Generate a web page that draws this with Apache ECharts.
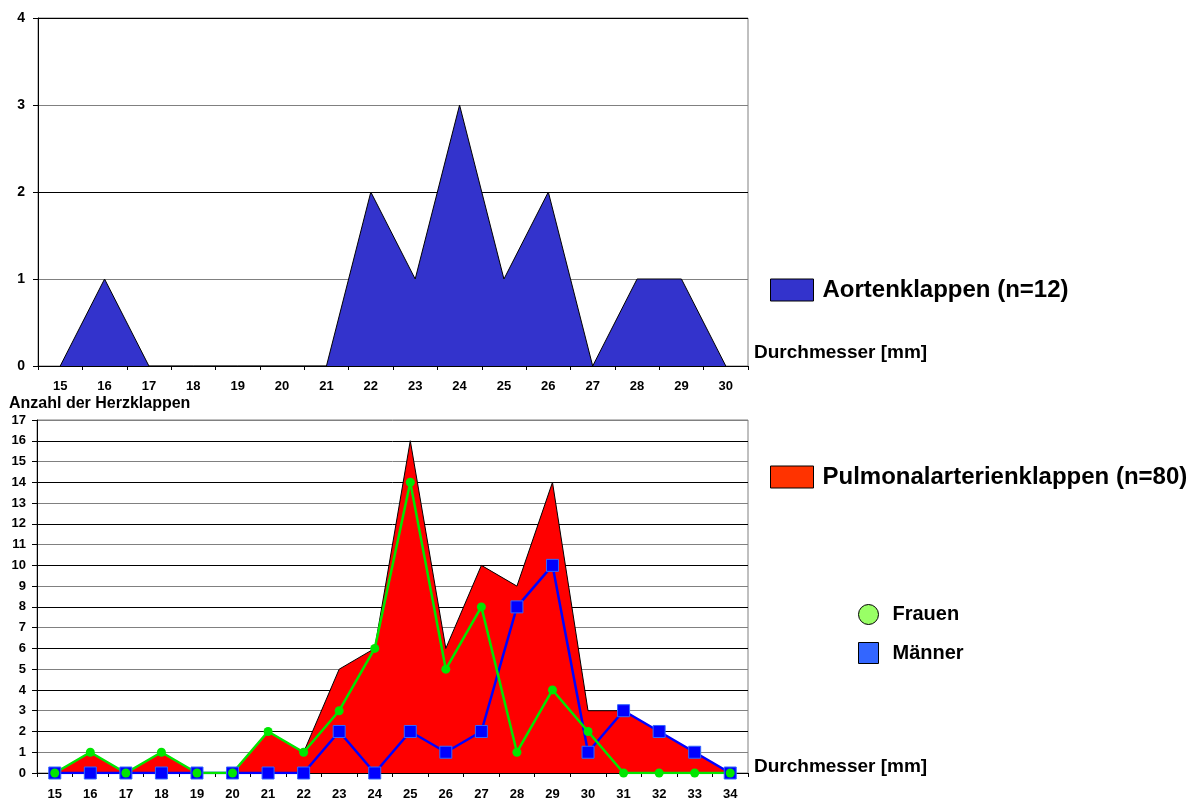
<!DOCTYPE html>
<html>
<head>
<meta charset="utf-8">
<script src="https://cdn.jsdelivr.net/npm/echarts@6/dist/echarts.min.js"></script>
<style>
  html, body { margin: 0; padding: 0; background: #fff; }
  #chart { width: 1196px; height: 801px; }
</style>
</head>
<body>
<div id="chart"></div>
<script>
// Aortenklappen, Durchmesser 15..30 mm
var aortaSizes = ['15', '16', '17', '18', '19', '20', '21', '22', '23', '24', '25', '26', '27', '28', '29', '30'];
var aortaCounts = [0, 1, 0, 0, 0, 0, 0, 2, 1, 3, 1, 2, 0, 1, 1, 0];

// Pulmonalarterienklappen, Durchmesser 15..34 mm
var pulmoSizes = ['15', '16', '17', '18', '19', '20', '21', '22', '23', '24', '25', '26', '27', '28', '29', '30', '31', '32', '33', '34'];
var pulmoCounts = [0, 1, 0, 1, 0, 0, 2, 1, 5, 6, 16, 6, 10, 9, 14, 3, 3, 2, 1, 0];
var frauenCounts = [0, 1, 0, 1, 0, 0, 2, 1, 3, 6, 14, 5, 8, 1, 4, 2, 0, 0, 0, 0];
var maennerCounts = [0, 0, 0, 0, 0, 0, 0, 0, 2, 0, 2, 1, 2, 8, 10, 1, 3, 2, 1, 0];

var FONT = '"Liberation Sans", Arial, sans-serif';

var chart = echarts.init(document.getElementById('chart'));

function xAxisOf(gridIndex, data, nameStyle, labelMargin) {
  return {
    type: 'category',
    gridIndex: gridIndex,
    data: data,
    boundaryGap: true,
    name: 'Durchmesser [mm]',
    nameLocation: 'end',
    nameGap: 6,
    nameTextStyle: nameStyle,
    axisLine: { lineStyle: { color: '#000', width: 1 } },
    axisTick: { show: true, length: 4, lineStyle: { color: '#000' } },
    axisLabel: { interval: 0, color: '#000', fontFamily: FONT, fontWeight: 'bold', fontSize: 13, margin: labelMargin },
    splitLine: { show: false }
  };
}

function yAxisOf(gridIndex, max, fontSize, margin) {
  return {
    type: 'value',
    gridIndex: gridIndex,
    min: 0,
    max: max,
    interval: 1,
    axisLine: { show: true, lineStyle: { color: '#000', width: 1 } },
    axisTick: { show: true, length: 5, lineStyle: { color: '#000' } },
    axisLabel: { color: '#000', fontFamily: FONT, fontWeight: 'bold', fontSize: fontSize, margin: margin },
    splitLine: { show: true, lineStyle: { color: ['#000', '#808080'], width: 1 } }
  };
}

chart.setOption({
  animation: false,
  backgroundColor: '#fff',
  textStyle: { fontFamily: FONT },
  grid: [
    { left: 38, top: 18, width: 710, height: 348, show: true, borderColor: '#808080', borderWidth: 1, backgroundColor: '#fff' },
    { left: 37, top: 420, width: 711, height: 353, show: true, borderColor: '#808080', borderWidth: 1, backgroundColor: '#fff' }
  ],
  xAxis: [
    xAxisOf(0, aortaSizes, { color: '#000', fontFamily: FONT, fontWeight: 'bold', fontSize: 19, align: 'left', verticalAlign: 'bottom', padding: [0, 0, 4, 0] }, 14),
    xAxisOf(1, pulmoSizes, { color: '#000', fontFamily: FONT, fontWeight: 'bold', fontSize: 19, align: 'left', verticalAlign: 'bottom', lineHeight: 13, padding: [0, 0, 0, 0] }, 15)
  ],
  yAxis: [
    yAxisOf(0, 4, 14, 13),
    yAxisOf(1, 17, 13, 11)
  ],
  graphic: [
    {
      type: 'text', left: 9, top: 396,
      style: { text: 'Anzahl der Herzklappen', fill: '#000', font: 'bold 16px ' + FONT }
    }
  ],
  legend: [
    {
      left: 770, top: 278, padding: 0,
      itemWidth: 43, itemHeight: 22, itemGap: 10,
      textStyle: { color: '#000', fontFamily: FONT, fontWeight: 'bold', fontSize: 24, padding: [0, 0, 0, 4] },
      selectedMode: false,
      data: [{ name: 'Aortenklappen (n=12)', icon: 'rect', itemStyle: { color: '#3333CC', borderColor: '#000', borderWidth: 1 } }]
    },
    {
      left: 770, top: 465, padding: 0,
      itemWidth: 43, itemHeight: 22, itemGap: 10,
      textStyle: { color: '#000', fontFamily: FONT, fontWeight: 'bold', fontSize: 24, padding: [0, 0, 0, 4] },
      selectedMode: false,
      data: [{ name: 'Pulmonalarterienklappen (n=80)', icon: 'rect', itemStyle: { color: '#FF3300', borderColor: '#000', borderWidth: 1 } }]
    },
    {
      left: 858, top: 604, padding: 0, orient: 'vertical',
      itemWidth: 20, itemHeight: 21, itemGap: 17,
      textStyle: { color: '#000', fontFamily: FONT, fontWeight: 'bold', fontSize: 20, padding: [0, 0, 0, 9] },
      selectedMode: false,
      data: [
        { name: 'Frauen', icon: 'circle', itemStyle: { color: '#99FF66', borderColor: '#000', borderWidth: 1 } },
        { name: 'Männer', icon: 'rect', itemStyle: { color: '#3366FF', borderColor: '#000', borderWidth: 1 } }
      ]
    }
  ],
  series: [
    {
      name: 'Aortenklappen (n=12)',
      type: 'line',
      xAxisIndex: 0, yAxisIndex: 0,
      data: aortaCounts,
      symbol: 'none',
      lineStyle: { color: '#000', width: 1 },
      itemStyle: { color: '#3333CC' },
      areaStyle: { color: '#3333CC', opacity: 1 }
    },
    {
      name: 'Pulmonalarterienklappen (n=80)',
      type: 'line',
      xAxisIndex: 1, yAxisIndex: 1,
      data: pulmoCounts,
      symbol: 'none',
      lineStyle: { color: '#000', width: 1 },
      itemStyle: { color: '#FF0000' },
      areaStyle: { color: '#FF0000', opacity: 1 }
    },
    {
      name: 'Männer',
      type: 'line',
      xAxisIndex: 1, yAxisIndex: 1,
      data: maennerCounts,
      symbol: 'rect',
      symbolSize: 12,
      showAllSymbol: true,
      lineStyle: { color: '#0000FF', width: 2.5 },
      itemStyle: { color: '#0000FF', borderColor: '#3366FF', borderWidth: 1 }
    },
    {
      name: 'Frauen',
      type: 'line',
      xAxisIndex: 1, yAxisIndex: 1,
      data: frauenCounts,
      symbol: 'circle',
      symbolSize: 9,
      showAllSymbol: true,
      lineStyle: { color: '#00E600', width: 2.5 },
      itemStyle: { color: '#00E600', borderWidth: 0 }
    }
  ]
});
</script>
</body>
</html>
